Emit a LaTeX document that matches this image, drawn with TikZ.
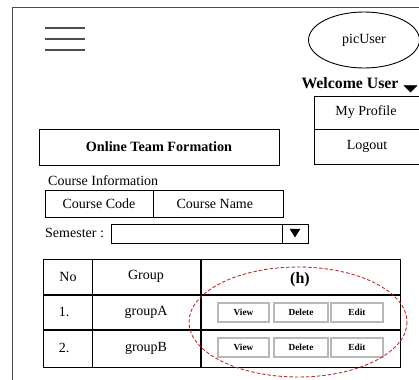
\documentclass[tikz,border=0pt]{standalone}
\usepackage{fontspec}
\setmainfont{Liberation Serif}
\usetikzlibrary{shapes.geometric}

\definecolor{framegray}{gray}{0.3}
\definecolor{btngray}{gray}{0.72}
\definecolor{markred}{RGB}{190,45,45}

\newcommand{\uitext}{\fontsize{14}{16}\selectfont}
\newcommand{\uibold}{\fontsize{14.2}{16}\selectfont\bfseries}
\newcommand{\uibtn}{\fontsize{9.3}{11}\selectfont\bfseries}

\tikzset{
	uibox/.style={draw, line width=0.8pt, inner sep=0pt},
	uibtn/.style={draw=btngray, line width=1.1pt, fill=white, inner sep=0pt,
		minimum height=19pt, font=\uibtn},
	uicell/.style={inner sep=0pt, font=\uitext},
}

\begin{document}
\begin{tikzpicture}[
x=1pt,
y=-1pt,
]
	\useasboundingbox (0,0) rectangle (419,379);
	
	%%%%%%%%%%%%%%%%%%%%%%%%%%%%
	%Rahmen und Kopfzeile
	%%%%%%%%%%%%%%%%%%%%%%%%%%%%
	
	\draw [framegray, line width=0.9pt] (420,7) -- (12,7) -- (12,380);
	
	\draw [framegray, line width=1.3pt] (45,28) -- (85,28);
	\draw [framegray, line width=1.3pt] (45,39) -- (85,39);
	\draw [framegray, line width=1.3pt] (45,50) -- (85,50);
	
	\node [draw, ellipse, line width=0.9pt, minimum width=111pt, minimum height=56pt,
		inner sep=0pt, font=\uitext] (picuser) at (364,40) {picUser};
	
	\node [inner sep=0pt, font=\fontsize{15.8}{18}\selectfont\bfseries] (welcome) at (350,83.5) {Welcome User};
	\filldraw [black] (404,85.5) -- (417,85.5) -- (410.5,92) -- cycle;
	
	%Menue rechts
	\draw [line width=0.8pt] (420,96) -- (314,96) -- (314,164) -- (420,164);
	\draw [line width=0.8pt] (314,129) -- (420,129);
	\node [uicell] (profile) at (366,112) {My Profile};
	\node [uicell] (logout) at (367,146) {Logout};
	
	%%%%%%%%%%%%%%%%%%%%%%%%%%%%
	%Kursdaten
	%%%%%%%%%%%%%%%%%%%%%%%%%%%%
	
	\node [uibox, minimum width=240pt, minimum height=36pt, font=\uibold] (title) at (159,147) {Online Team Formation};
	
	\node [uicell, anchor=west] (courseinfo) at (48,181) {Course Information};
	\node [uibox, minimum width=108pt, minimum height=27pt, font=\uitext] (code) at (99,203.5) {Course Code};
	\node [uibox, minimum width=130pt, minimum height=27pt, font=\uitext, anchor=west] (name) at (code.east) {\hspace*{-8pt}Course Name};
	
	\node [uicell, anchor=west] (semester) at (45,233) {Semester :};
	\draw [line width=0.8pt] (111,224) rectangle (308,243);
	\draw [line width=0.8pt] (282,224) -- (282,243);
	\filldraw [black] (290,229) -- (300,229) -- (295,237) -- cycle;
	
	%%%%%%%%%%%%%%%%%%%%%%%%%%%%
	%Tabelle
	%%%%%%%%%%%%%%%%%%%%%%%%%%%%
	
	\draw [line width=0.8pt] (43,259) rectangle (400,367);
	\draw [line width=0.8pt] (92,259) -- (92,367);
	\draw [line width=1.3pt] (201,259) -- (201,367);
	\draw [line width=1.3pt] (43,295) -- (400,295);
	\draw [line width=1.3pt] (43,330) -- (400,330);
	
	\node [uicell] (no) at (68,277) {No};
	\node [uicell] (group) at (146,276) {Group};
	\node [inner sep=0pt, font=\fontsize{16}{18}\selectfont\bfseries] (h) at (300,280) {(h)};
	
	\node [uicell] (nrA) at (64,312) {1.};
	\node [uicell] (groupA) at (146,312) {groupA};
	\node [uicell] (nrB) at (64,348) {2.};
	\node [uicell] (groupB) at (146,348) {groupB};
	
	\node [uibtn, minimum width=51pt] (viewA) at (243.5,312.5) {View};
	\node [uibtn, minimum width=54pt] (deleteA) at (301,312.5) {Delete};
	\node [uibtn, minimum width=52pt] (editA) at (357,312.5) {Edit};
	
	\node [uibtn, minimum width=51pt] (viewB) at (243.5,347.5) {View};
	\node [uibtn, minimum width=54pt] (deleteB) at (301,347.5) {Delete};
	\node [uibtn, minimum width=52pt] (editB) at (357,347.5) {Edit};
	
	%Markierung
	\draw [markred, line width=0.9pt, dash pattern=on 3.5pt off 2pt] (298,322) ellipse [x radius=109, y radius=55];
	
\end{tikzpicture}
\end{document}
